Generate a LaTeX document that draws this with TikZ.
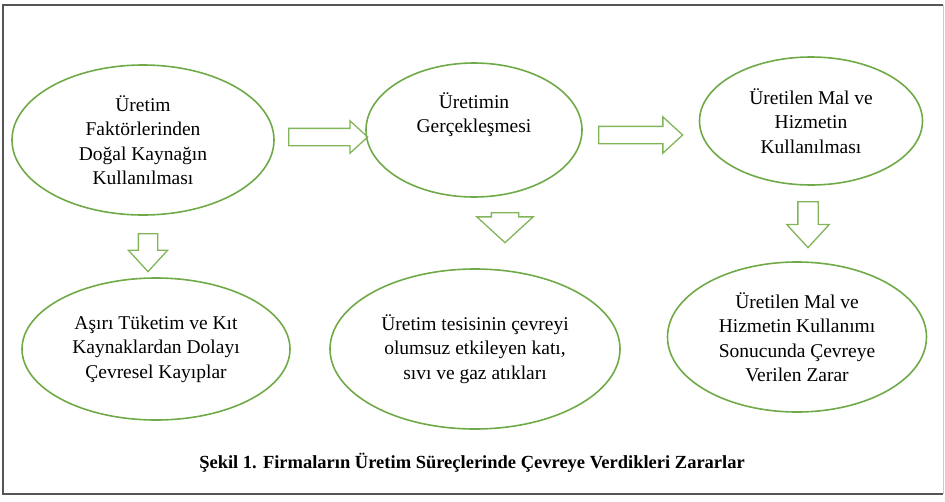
\documentclass[tikz,border=0pt]{standalone}
\usepackage{fontspec}
\setmainfont{LiberationSerif}[Extension=.ttf, UprightFont=*-Regular, BoldFont=*-Bold]
\usepackage{tikz}
\usetikzlibrary{shapes.geometric, shapes.arrows}

\definecolor{leafgreen}{RGB}{112,170,72}
\definecolor{arrowgreen}{RGB}{130,180,90}
\definecolor{framegray}{RGB}{85,85,85}

\begin{document}
\begin{tikzpicture}[
    x=1pt, y=-1pt,
    stage/.style={draw=leafgreen, ellipse, line width=1.6pt, inner sep=0pt, align=center,
        font=\fontsize{19.5}{24.5}\selectfont},
    flow/.style={draw=arrowgreen, single arrow, line width=1.3pt, inner xsep=0pt, anchor=tail,
        single arrow head indent=0pt, single arrow tip angle=85}
]
    \useasboundingbox (0,0) rectangle (945,501);

    % frame
    \draw[framegray, line width=2pt] (943,5) -- (3,5) -- (3,494) -- (943,494);
    \draw[gray!40, line width=0.8pt] (943,5) -- (943,494);

    % upper row
    \node[stage, minimum width=262pt, minimum height=150pt] (doga) at (143,140)
        {Üretim\\Faktörlerinden\\Doğal Kaynağın\\Kullanılması};
    \node[stage, minimum width=216pt, minimum height=134pt] (uretim) at (474,130)
        {Üretimin\\Gerçekleşmesi\\[10pt]};
    \node[stage, minimum width=223pt, minimum height=128pt] (kullanim) at (811,121)
        {Üretilen Mal ve\\Hizmetin\\Kullanılması};

    % lower row
    \node[stage, minimum width=268pt, minimum height=142pt] (kayip) at (156,349)
        {Aşırı Tüketim ve Kıt\\Kaynaklardan Dolayı\\Çevresel Kayıplar};
    \node[stage, minimum width=290pt, minimum height=160pt] (atik) at (475,349)
        {Üretim tesisinin çevreyi\\olumsuz etkileyen katı,\\sıvı ve gaz atıkları};
    \node[stage, minimum width=259pt, minimum height=150pt] (zarar) at (797,337)
        {Üretilen Mal ve\\Hizmetin Kullanımı\\Sonucunda Çevreye\\Verilen Zarar};

    % block arrows (placed by their tails)
    \node[flow, inner ysep=8pt, minimum height=79pt, minimum width=31pt,
        single arrow head extend=7.5pt] (ok1) at (288,137) {};
    \node[flow, inner ysep=8pt, minimum height=84pt, minimum width=35pt,
        single arrow head extend=9.5pt] (ok2) at (598,135) {};
    \node[flow, rotate=-90, inner ysep=9pt, minimum height=38pt, minimum width=38pt,
        single arrow head extend=10pt] (ok3) at (148,233) {};
    \node[flow, rotate=-90, inner ysep=13pt, minimum height=30pt, minimum width=55pt,
        single arrow head extend=14.5pt, single arrow tip angle=95] (ok4) at (505,212) {};
    \node[flow, rotate=-90, inner ysep=9.5pt, minimum height=46pt, minimum width=41pt,
        single arrow head extend=11pt] (ok5) at (808,201) {};

    % caption
    \node[font=\bfseries\fontsize{18.5}{22}\selectfont] (sekil) at (472,463)
        {Şekil 1. Firmaların Üretim Süreçlerinde Çevreye Verdikleri Zararlar};
\end{tikzpicture}
\end{document}
